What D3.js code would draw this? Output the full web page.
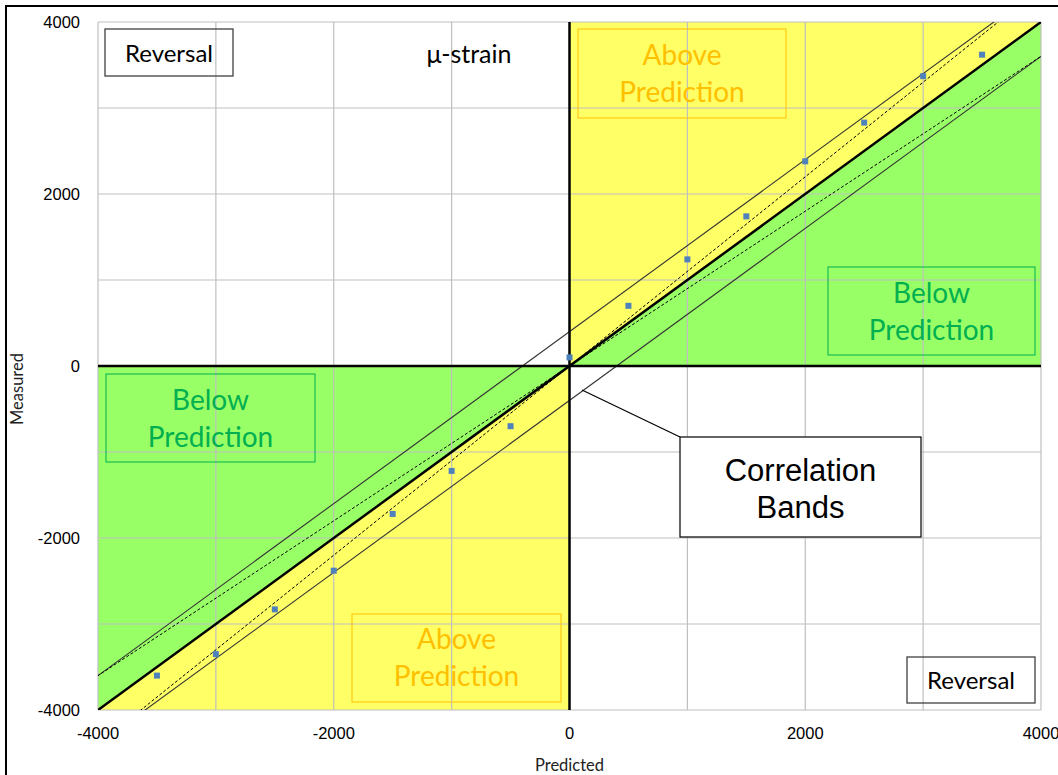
<!DOCTYPE html>
<html>
<head>
<meta charset="utf-8">
<script src="https://cdn.jsdelivr.net/npm/d3@7"></script>
<style>
  body { margin: 0; background: #fff; }
  svg { display: block; }
</style>
</head>
<body>
<div id="chart"></div>
<script>
// measured vs predicted strain points
const predicted = [-3500, -3000, -2500, -2000, -1500, -1000, -500, 0, 500, 1000, 1500, 2000, 2500, 3000, 3500];
const measured = [-3600, -3350, -2830, -2380, -1720, -1220, -700, 100, 700, 1240, 1740, 2380, 2830, 3370, 3620];

// axis setup
const domainMin = -4000, domainMax = 4000;
const tickValues = [-4000, -2000, 0, 2000, 4000];
const gridValues = [-4000, -3000, -2000, -1000, 0, 1000, 2000, 3000, 4000];

// correlation band definitions
const bandOffsets = [400, -400];   // y = x +/- offset
const bandSlopes = [1.1, 0.9];     // y = slope * x

const width = 1058, height = 775;
const margin = { left: 98, top: 22, right: 17, bottom: 65 };

const svg = d3.select("#chart").append("svg")
    .attr("width", width)
    .attr("height", height);

const x = d3.scaleLinear().domain([domainMin, domainMax]).range([margin.left, width - margin.right]);
const y = d3.scaleLinear().domain([domainMin, domainMax]).range([height - margin.bottom, margin.top]);

svg.append("defs").append("clipPath").attr("id", "plot-clip")
    .append("rect")
    .attr("x", x(domainMin)).attr("y", y(domainMax))
    .attr("width", x(domainMax) - x(domainMin))
    .attr("height", y(domainMin) - y(domainMax));

// outer frame
svg.append("rect")
    .attr("x", 6).attr("y", 6)
    .attr("width", width + 20).attr("height", height + 20)
    .attr("fill", "none").attr("stroke", "#000").attr("stroke-width", 2);

const yellow = "#ffff66", green = "#99ff66";
const poly = d3.line().x(d => x(d[0])).y(d => y(d[1]));

// quadrant shading
const regions = [
    { pts: [[0, 0], [domainMax, 0], [domainMax, domainMax], [0, domainMax]], fill: yellow },
    { pts: [[0, 0], [domainMax, 0], [domainMax, domainMax]], fill: green },
    { pts: [[domainMin, domainMin], [0, domainMin], [0, 0], [domainMin, 0]], fill: yellow },
    { pts: [[domainMin, domainMin], [domainMin, 0], [0, 0]], fill: green }
];
svg.append("g").selectAll("path")
    .data(regions)
    .enter()
    .append("path")
    .attr("d", d => poly(d.pts) + "Z")
    .attr("fill", d => d.fill);

// gridlines
const grid = svg.append("g").attr("class", "grid");
grid.selectAll("line.v")
    .data(gridValues)
    .enter()
    .append("line")
    .attr("class", "v")
    .attr("x1", d => x(d)).attr("x2", d => x(d))
    .attr("y1", y(domainMax)).attr("y2", y(domainMin))
    .attr("stroke", "#bfbfbf").attr("stroke-width", 1.2);
grid.selectAll("line.h")
    .data(gridValues)
    .enter()
    .append("line")
    .attr("class", "h")
    .attr("y1", d => y(d)).attr("y2", d => y(d))
    .attr("x1", x(domainMin)).attr("x2", x(domainMax))
    .attr("stroke", "#bfbfbf").attr("stroke-width", 1.2);

// text boxes without fill (gridlines show through)
function textBox(b) {
    const g = svg.append("g");
    g.append("rect")
        .attr("x", b.x).attr("y", b.y).attr("width", b.w).attr("height", b.h)
        .attr("fill", b.fill || "none")
        .attr("stroke", b.stroke).attr("stroke-width", b.sw || 1);
    g.selectAll("text")
        .data(b.lines)
        .enter()
        .append("text")
        .attr("x", b.x + b.w / 2)
        .attr("y", (d, i) => b.base + i * b.lh)
        .attr("text-anchor", "middle")
        .style("font-family", b.font)
        .style("font-size", b.size + "px")
        .attr("fill", b.color)
        .text(d => d);
}

const calibri = "Lato, 'Open Sans', sans-serif";
const orange = "#ffc000", darkGreen = "#00b050";

textBox({ x: 105, y: 29, w: 128, h: 47, stroke: "#404040", sw: 1.3, lines: ["Reversal"], base: 62, lh: 0, font: calibri, size: 24, color: "#000" });
textBox({ x: 907, y: 657, w: 128, h: 46, stroke: "#404040", sw: 1.3, lines: ["Reversal"], base: 689, lh: 0, font: calibri, size: 24, color: "#000" });
textBox({ x: 578, y: 29, w: 208, h: 89, stroke: orange, sw: 1, lines: ["Above", "Prediction"], base: 65, lh: 37, font: calibri, size: 28, color: orange });
textBox({ x: 828, y: 267, w: 207, h: 88, stroke: darkGreen, sw: 1, lines: ["Below", "Prediction"], base: 303, lh: 37, font: calibri, size: 28, color: darkGreen });
textBox({ x: 106, y: 374, w: 209, h: 88, stroke: darkGreen, sw: 1, lines: ["Below", "Prediction"], base: 410, lh: 37, font: calibri, size: 28, color: darkGreen });
textBox({ x: 352, y: 614, w: 209, h: 88, stroke: orange, sw: 1, lines: ["Above", "Prediction"], base: 649, lh: 37, font: calibri, size: 28, color: orange });

// units label
svg.append("text")
    .attr("x", 469).attr("y", 63)
    .attr("text-anchor", "middle")
    .style("font-family", calibri)
    .style("font-size", "25px")
    .text("\u03bc-strain");

// lines, clipped to the plot area
const lines = svg.append("g").attr("clip-path", "url(#plot-clip)");
const ends = [domainMin - 1000, domainMax + 1000];

// correlation bands (offset)
lines.selectAll("line.band")
    .data(bandOffsets)
    .enter()
    .append("line")
    .attr("class", "band")
    .attr("x1", x(ends[0])).attr("y1", d => y(ends[0] + d))
    .attr("x2", x(ends[1])).attr("y2", d => y(ends[1] + d))
    .attr("stroke", "#333").attr("stroke-width", 1.1);

// correlation bands (slope)
lines.selectAll("line.slope")
    .data(bandSlopes)
    .enter()
    .append("line")
    .attr("class", "slope")
    .attr("x1", x(ends[0])).attr("y1", d => y(ends[0] * d))
    .attr("x2", x(ends[1])).attr("y2", d => y(ends[1] * d))
    .attr("stroke", "#000").attr("stroke-width", 1)
    .attr("stroke-dasharray", "3,2");

// zero axes
lines.append("line")
    .attr("x1", x(0)).attr("x2", x(0))
    .attr("y1", y(domainMax)).attr("y2", y(domainMin))
    .attr("stroke", "#000").attr("stroke-width", 2.5);
lines.append("line")
    .attr("x1", x(domainMin)).attr("x2", x(domainMax))
    .attr("y1", y(0)).attr("y2", y(0))
    .attr("stroke", "#000").attr("stroke-width", 2.5);

// 1:1 line
lines.append("line")
    .attr("x1", x(domainMin)).attr("y1", y(domainMin))
    .attr("x2", x(domainMax)).attr("y2", y(domainMax))
    .attr("stroke", "#000").attr("stroke-width", 2.5);

// data points
const pts = predicted.map((p, i) => ({ p: p, m: measured[i] }));
svg.append("g").selectAll("rect")
    .data(pts)
    .enter()
    .append("rect")
    .attr("x", d => x(d.p) - 3)
    .attr("y", d => y(d.m) - 3)
    .attr("width", 6).attr("height", 6)
    .attr("fill", "#4f81bd");

// callout
svg.append("line")
    .attr("x1", 582).attr("y1", 390)
    .attr("x2", 680).attr("y2", 437)
    .attr("stroke", "#000").attr("stroke-width", 1.2);
textBox({ x: 680, y: 437, w: 241, h: 100, fill: "#fff", stroke: "#000", sw: 1.2, lines: ["Correlation", "Bands"], base: 481, lh: 37, font: "'Liberation Sans', Arial, sans-serif", size: 31, color: "#000" });

// tick labels
const tickFont = "'Liberation Sans', Arial, sans-serif";
svg.append("g").selectAll("text")
    .data(tickValues)
    .enter()
    .append("text")
    .attr("x", 80)
    .attr("y", d => y(d))
    .attr("dy", "0.35em")
    .attr("text-anchor", "end")
    .style("font-family", tickFont)
    .style("font-size", "16.5px")
    .text(d => d);
svg.append("g").selectAll("text")
    .data(tickValues)
    .enter()
    .append("text")
    .attr("x", d => x(d))
    .attr("y", 733)
    .attr("dy", "0.35em")
    .attr("text-anchor", "middle")
    .style("font-family", tickFont)
    .style("font-size", "16.5px")
    .text(d => d);

// axis titles
svg.append("text")
    .attr("x", x(0)).attr("y", 771)
    .attr("text-anchor", "middle")
    .style("font-family", calibri)
    .style("font-size", "16.5px")
    .attr("fill", "#222")
    .text("Predicted");
svg.append("text")
    .attr("transform", "translate(23," + 389 + ") rotate(-90)")
    .attr("text-anchor", "middle")
    .style("font-family", calibri)
    .style("font-size", "16.5px")
    .attr("fill", "#222")
    .text("Measured");
</script>
</body>
</html>
